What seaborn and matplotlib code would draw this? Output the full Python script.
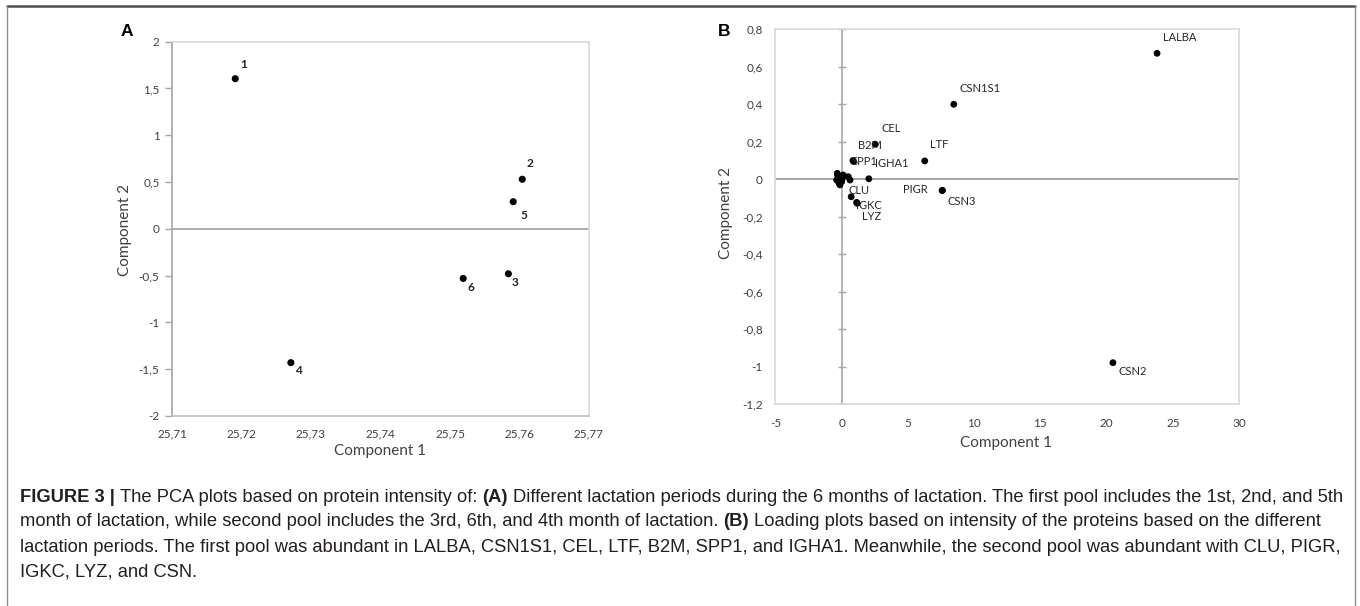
"""
Two PCA panels (score plot and loading plot) with the figure caption below.
"""

# %% ---- Requirements and constants
import numpy as np
import seaborn as sns
import matplotlib.pyplot as plt
from matplotlib.lines import Line2D
from matplotlib.ticker import FuncFormatter

W, H = 1360, 606

# Panel A: lactation months (scores)
months = ['1', '2', '3', '4', '5', '6']
a_comp1 = [25.7191, 25.7604, 25.7584, 25.7271, 25.7591, 25.7519]
a_comp2 = [1.605, 0.53, -0.48, -1.43, 0.29, -0.53]

# Panel B: protein loadings (labelled ones)
proteins = ['LALBA', 'CSN1S1', 'CEL', 'B2M', 'SPP1', 'IGHA1', 'LTF',
            'PIGR', 'CSN3', 'CLU', 'IGKC', 'LYZ', 'CSN2']
b_comp1 = [23.8, 8.46, 2.53, 0.85, 0.9, 2.05, 6.27,
           7.58, 7.61, 0.72, 1.13, 1.17, 20.47]
b_comp2 = [0.672, 0.40, 0.187, 0.10, 0.095, 0.003, 0.098,
           -0.06, -0.059, -0.093, -0.123, -0.128, -0.978]

# unlabelled proteins crowded around the origin
other_comp1 = [-0.33, -0.13, -0.38, 0.0, 0.12, 0.5, 0.63, -0.13, -0.25, -0.2, 0.05, -0.3]
other_comp2 = [0.032, 0.014, -0.004, -0.013, 0.023, 0.014, -0.004, -0.03, 0.0, -0.02, 0.005, 0.02]

# label offsets in pixels (dx, dy up)
a_offsets = {'1': (8, 14), '2': (8, 16), '3': (7, -9), '4': (8, -8), '5': (11, -14), '6': (8, -9)}
b_offsets = {'LALBA': (23, 16), 'CSN1S1': (26, 16), 'CEL': (16, 16), 'B2M': (17, 15),
             'SPP1': (11, 0), 'IGHA1': (23, 15), 'LTF': (14, 16), 'PIGR': (-27, 1),
             'CSN3': (19, -11), 'CLU': (8, 6), 'IGKC': (12, -3), 'LYZ': (14, -13),
             'CSN2': (20, -9)}

caption_lines = [
    [('FIGURE 3 |', 'bold'), ('The PCA plots based on protein intensity of:', 'normal'),
     ('(A)', 'bold'),
     ('Different lactation periods during the 6 months of lactation. The first pool includes the 1st, 2nd, and 5th', 'normal')],
    [('month of lactation, while second pool includes the 3rd, 6th, and 4th month of lactation.', 'normal'),
     ('(B)', 'bold'),
     ('Loading plots based on intensity of the proteins based on the different', 'normal')],
    [('lactation periods. The first pool was abundant in LALBA, CSN1S1, CEL, LTF, B2M, SPP1, and IGHA1. Meanwhile, the second pool was abundant with CLU, PIGR,', 'normal')],
    [('IGKC, LYZ, and CSN.', 'normal')],
]

AXIS_GREY = '#a6a6a6'
BORDER_GREY = '#d9d9d9'
TEXT_GREY = '#404040'
CHART_FONT = ['Lato', 'DejaVu Sans']
CAPTION_FONT = ['Liberation Sans', 'DejaVu Sans']


def comma_fmt(v, pos):
    v = round(v, 4) + 0.0
    return f'{v:g}'.replace('.', ',')


def px_axes(left, top, right, bottom):
    return [left / W, 1 - bottom / H, (right - left) / W, (bottom - top) / H]


# %% ---- Figure
sns.set_theme(style='white')
plt.rcParams['font.family'] = CHART_FONT

fig = plt.figure(figsize=(W / 100, H / 100), dpi=100)

# ---- Panel A
ax = fig.add_axes(px_axes(172, 41.7, 589, 416))
sns.scatterplot(x=a_comp1, y=a_comp2, ax=ax, color='black', s=26,
                edgecolor='none', legend=False, zorder=3)
ax.set_xlim(25.71, 25.77)
ax.set_ylim(-2, 2)
ax.set_xticks(np.linspace(25.71, 25.77, 7))
ax.set_yticks(np.arange(-2, 2.01, 0.5))
ax.xaxis.set_major_formatter(FuncFormatter(comma_fmt))
ax.yaxis.set_major_formatter(FuncFormatter(comma_fmt))
ax.axhline(0, color=AXIS_GREY, lw=1.3, zorder=1)
for side in ['top', 'right']:
    ax.spines[side].set_color(BORDER_GREY)
ax.spines['bottom'].set_color('#bfbfbf')
ax.spines['left'].set_color(AXIS_GREY)
for sp in ax.spines.values():
    sp.set_linewidth(1.2)
ax.tick_params(axis='y', left=True, length=5, width=1, color=AXIS_GREY, pad=4,
               labelsize=8.5, labelcolor=TEXT_GREY)
ax.tick_params(axis='x', bottom=False, length=0, pad=9, labelsize=8.5, labelcolor=TEXT_GREY)
ax.set_xlabel('Component 1', fontsize=11, color=TEXT_GREY)
ax.set_ylabel('Component 2', fontsize=11, color=TEXT_GREY)
ax.xaxis.set_label_coords(0.5, -0.075)
ax.yaxis.set_label_coords(-0.095, 0.497)
for lab, x, y in zip(months, a_comp1, a_comp2):
    ax.annotate(lab, (x, y), xytext=a_offsets[lab], textcoords='offset pixels',
                ha='center', va='center', fontsize=8.5, fontweight='bold', color='#222222')

# ---- Panel B
ax = fig.add_axes(px_axes(775.4, 29.3, 1239.2, 404.3))
sns.scatterplot(x=other_comp1, y=other_comp2, ax=ax, color='black', s=24,
                edgecolor='none', legend=False, zorder=3)
sns.scatterplot(x=b_comp1, y=b_comp2, ax=ax, color='black', s=24,
                edgecolor='none', legend=False, zorder=3)
ax.set_xlim(-5, 30)
ax.set_ylim(-1.2, 0.8)
ax.set_xticks(np.arange(-5, 31, 5))
yt = np.arange(-1.2, 0.81, 0.2)
ax.set_yticks(yt)
ax.xaxis.set_major_formatter(FuncFormatter(comma_fmt))
ax.yaxis.set_major_formatter(FuncFormatter(comma_fmt))
ax.axhline(0, color=AXIS_GREY, lw=1.4, zorder=1)
ax.axvline(0, color=AXIS_GREY, lw=1.2, zorder=1)
# cross tick marks on the vertical axis
ax.scatter(np.zeros_like(yt), yt, marker='_', s=30, color=AXIS_GREY, linewidths=1, zorder=1)
for sp in ax.spines.values():
    sp.set_color(BORDER_GREY)
    sp.set_linewidth(1.2)
ax.tick_params(axis='y', left=False, length=0, pad=9, labelsize=8.5, labelcolor=TEXT_GREY)
ax.tick_params(axis='x', bottom=False, length=0, pad=10, labelsize=8.5, labelcolor=TEXT_GREY)
ax.set_xlabel('Component 1', fontsize=11, color=TEXT_GREY)
ax.set_ylabel('Component 2', fontsize=11, color=TEXT_GREY)
ax.xaxis.set_label_coords(0.498, -0.085)
ax.yaxis.set_label_coords(-0.092, 0.51)
for lab, x, y in zip(proteins, b_comp1, b_comp2):
    ax.annotate(lab, (x, y), xytext=b_offsets[lab], textcoords='offset pixels',
                ha='center', va='center', fontsize=8, color='#262626')

# ---- Panel letters
fig.text(127 / W, 1 - 32 / H, 'A', fontsize=12.5, fontweight='bold', ha='center', va='center',
         family=CAPTION_FONT, color='black')
fig.text(724 / W, 1 - 32 / H, 'B', fontsize=12.5, fontweight='bold', ha='center', va='center',
         family=CAPTION_FONT, color='black')

# ---- Frame around the figure
frame_kw = dict(transform=fig.transFigure, color='#8c8c8c', lw=1)
fig.add_artist(Line2D([7 / W, 1355 / W], [1 - 6 / H, 1 - 6 / H], color='#4d4d4d', lw=1.8,
                      transform=fig.transFigure))
fig.add_artist(Line2D([7 / W, 7 / W], [0, 1 - 6 / H], **frame_kw))
fig.add_artist(Line2D([1355 / W, 1355 / W], [0, 1 - 6 / H], **frame_kw))

# ---- Caption, segment by segment (mixed bold / normal)
fig.canvas.draw()
renderer = fig.canvas.get_renderer()


def measure(text, size, weight='normal'):
    t = fig.text(0, 0, text, fontsize=size, fontweight=weight, family=CAPTION_FONT)
    w = t.get_window_extent(renderer).width
    t.remove()
    return w


# pick the caption size so that the first line spans the frame like the reference
base = 10.0
space_base = measure('x x', base) - measure('xx', base)
first_w = sum(measure(s, base, wgt) for s, wgt in caption_lines[0]) + space_base * (len(caption_lines[0]) - 1)
cap_size = base * (1345 - 20) / first_w
space_w = measure('x x', cap_size) - measure('xx', cap_size)

line_y = [497, 522, 547, 572]
for segments, y in zip(caption_lines, line_y):
    x = 20.0
    for text, weight in segments:
        t = fig.text(x / W, 1 - y / H, text, fontsize=cap_size, fontweight=weight,
                     family=CAPTION_FONT, color='#231f20', ha='left', va='center')
        x = t.get_window_extent(renderer).x1 + space_w

fig.savefig('out.png', dpi=100)
